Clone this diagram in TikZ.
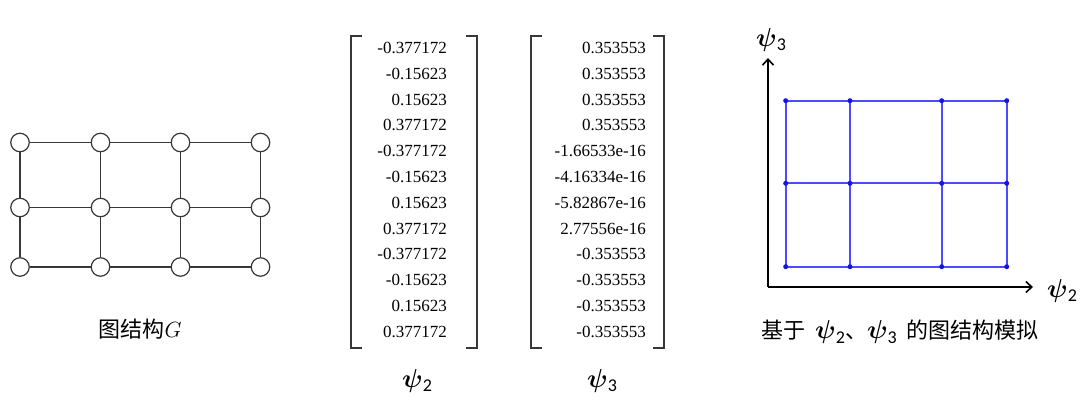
\documentclass[tikz,border=0pt]{standalone}
\usepackage{fontspec}
\usepackage{amsmath,bm}
\usepackage{fix-cm}
\newfontfamily\cjk{Noto Sans CJK SC}
\newfontfamily\numfont{Liberation Serif}
\newfontfamily\carl{Carlito}
\usetikzlibrary{arrows.meta}
\newcommand{\psisub}[1]{{\fontsize{26}{28}\selectfont$\bm{\psi}$}\raisebox{-0.2em}{\fontsize{18}{18}\selectfont\carl #1}}
\definecolor{gedge}{RGB}{55,55,55}
\definecolor{gblue}{RGB}{75,75,255}
\definecolor{dblue}{RGB}{20,20,230}
\tikzset{
  gnode/.style={circle,draw=gedge,fill=white,line width=1.2pt,minimum size=18.5pt,inner sep=0pt},
  gline/.style={gedge,line width=1.5pt},
  num/.style={anchor=base east,inner sep=0pt,font=\numfont\fontsize{17}{17}\selectfont},
  brk/.style={line width=1.3pt,draw=gedge},
  blab/.style={inner sep=0pt,font=\fontsize{22}{26}\selectfont},
  captext/.style={inner sep=0pt,font=\cjk\fontsize{22}{26}\selectfont},
  axis/.style={line width=1.6pt,-{Straight Barb[length=6pt,width=11pt,line width=1.6pt]}},
  bline/.style={gblue,line width=1.7pt},
  bdot/.style={circle,fill=dblue,inner sep=0pt,minimum size=5pt}
}
\begin{document}
\begin{tikzpicture}[x=1pt,y=-1pt]
\useasboundingbox (0,0) rectangle (1080,406);
% graph G
\foreach \i/\x in {1/20,2/100.5,3/180.5,4/260.5}{
  \foreach \j/\y in {1/142.5,2/207.5,3/267}{
    \node[gnode] (g\i\j) at (\x,\y) {};
  }
}
\foreach \j in {1,2,3}{
  \draw[gline] (g1\j) -- (g2\j) (g2\j) -- (g3\j) (g3\j) -- (g4\j);
}
\foreach \i in {1,2,3,4}{
  \draw[gline] (g\i1) -- (g\i2) (g\i2) -- (g\i3);
}
\node[captext,anchor=center] (capG) at (140,329) {图结构$G$};
% matrix psi2
\draw[brk] (362,36) -- (351,36) -- (351,348) -- (362,348);
\draw[brk] (466,36) -- (477,36) -- (477,348) -- (466,348);
\foreach \v [count=\k from 0] in {-0.377172,-0.15623,0.15623,0.377172,-0.377172,-0.15623,0.15623,0.377172,-0.377172,-0.15623,0.15623,0.377172}{
  \node[num] (a\k) at (447,{53.5+25.8*\k}) {\v};
}
\node[blab] (lab2) at (417,381) {\psisub{2}};
% matrix psi3
\draw[brk] (542,36) -- (531,36) -- (531,348) -- (542,348);
\draw[brk] (653,36) -- (664,36) -- (664,348) -- (653,348);
\foreach \v [count=\k from 0] in {0.353553,0.353553,0.353553,0.353553,-1.66533e-16,-4.16334e-16,-5.82867e-16,2.77556e-16,-0.353553,-0.353553,-0.353553,-0.353553}{
  \node[num] (b\k) at (646,{53.5+25.8*\k}) {\v};
}
\node[blab] (lab3) at (602,381) {\psisub{3}};
% plot
\coordinate (O) at (768,287);
\coordinate (Ytip) at (768,58);
\coordinate (Xtip) at (1033,287);
\draw[axis] (O) -- (Ytip);
\draw[axis] (O) -- (Xtip);
\node[blab] (ly) at (771,40) {\psisub{3}};
\node[blab] (lx) at (1062,291) {\psisub{2}};
\foreach \i/\x in {1/785.7,2/850,3/941.7,4/1006.7}{
  \foreach \j/\y in {1/100.7,2/183.3,3/266.7}{
    \coordinate (p\i\j) at (\x,\y);
  }
}
\foreach \j in {1,2,3}{
  \draw[bline] (p1\j) -- (p2\j) -- (p3\j) -- (p4\j);
}
\foreach \i in {1,2,3,4}{
  \draw[bline] (p\i1) -- (p\i2) -- (p\i3);
}
\foreach \i in {1,2,3,4}{
  \foreach \j in {1,2,3}{
    \node[bdot] (d\i\j) at (p\i\j) {};
  }
}
\node[captext,anchor=center] (capP) at (900,332) {基于\ \ \psisub{2}、\psisub{3}\ \ 的图结构模拟};
\end{tikzpicture}
\end{document}
